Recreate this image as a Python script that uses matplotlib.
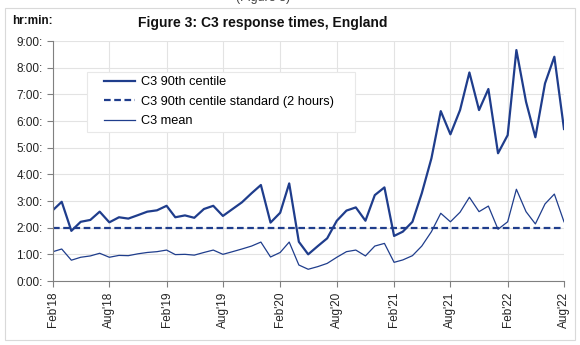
import numpy as np
import pandas as pd
import matplotlib
matplotlib.use("Agg")
import matplotlib.pyplot as plt
import matplotlib.dates as mdates
from matplotlib.patches import Rectangle

plt.rcParams["font.family"] = ["Liberation Sans", "DejaVu Sans"]

# monthly values, Feb 2018 .. Aug 2022, in hours
months = pd.date_range("2018-02-01", "2022-08-01", freq="MS")
centile_90 = [
    2.66, 2.97, 1.88, 2.22, 2.29, 2.60, 2.20, 2.39, 2.34, 2.47, 2.60,  # 2018
    2.65, 2.82, 2.39, 2.46, 2.37, 2.70, 2.82, 2.44, 2.70, 2.95, 3.29, 3.60,  # 2019
    2.19, 2.56, 3.66, 1.47, 1.00, 1.31, 1.60, 2.26, 2.64, 2.76, 2.26, 3.22,  # 2020
    3.51, 1.69, 1.85, 2.22, 3.29, 4.60, 6.37, 5.50, 6.41, 7.82, 6.41, 7.20,  # 2021
    4.79, 5.47, 8.66, 6.72, 5.39, 7.41, 8.41, 5.70,  # 2022
]
mean_time = [
    1.10, 1.20, 0.78, 0.89, 0.94, 1.04, 0.89, 0.96, 0.95, 1.02, 1.07,
    1.10, 1.16, 0.99, 1.00, 0.97, 1.07, 1.16, 1.00, 1.10, 1.20, 1.31, 1.46,
    0.90, 1.07, 1.46, 0.60, 0.44, 0.54, 0.66, 0.89, 1.10, 1.16, 0.94, 1.31,
    1.41, 0.70, 0.79, 0.95, 1.31, 1.85, 2.54, 2.22, 2.58, 3.14, 2.60, 2.81,
    1.94, 2.22, 3.44, 2.60, 2.14, 2.89, 3.26, 2.22,
]
standard = 2.0

y_ticks = np.arange(0, 10)
y_labels = [f"{h}:00:" for h in y_ticks]

navy = "#1f3d8c"
W, H = 580, 345

fig = plt.figure(figsize=(5.8, 3.45), dpi=100)
ax = fig.add_axes([53 / W, 1 - 281 / H, 511 / W, 240 / H])

ax.plot(months, centile_90, color=navy, lw=1.6, label="C3 90th centile")
ax.axhline(standard, color=navy, lw=1.6, ls=(0, (3, 1.6)),
           label="C3 90th centile standard (2 hours)")
ax.plot(months, mean_time, color=navy, lw=0.9, label="C3 mean")

ax.set_xlim(months[0], months[-1])
ax.set_ylim(0, 9)
ax.set_yticks(y_ticks)
ax.set_yticklabels(y_labels)
ax.xaxis.set_major_locator(mdates.MonthLocator(bymonth=[2, 8]))
ax.xaxis.set_major_formatter(mdates.DateFormatter("%b'%y"))
plt.setp(ax.get_xticklabels(), rotation=90)

ax.grid(True, color="#e3e3e3", lw=0.8)
ax.set_axisbelow(True)
for side in ["top", "right"]:
    ax.spines[side].set_visible(False)
for side in ["left", "bottom"]:
    ax.spines[side].set_color("#808080")
ax.tick_params(axis="both", colors="#808080", labelcolor="#222222",
               labelsize=8.5, length=4, width=0.8)

# legend box drawn separately (wide side padding like the source)
fig.patches.append(Rectangle((87 / W, 1 - 132 / H), 268 / W, 60 / H,
                             transform=fig.transFigure, facecolor="white",
                             edgecolor="#e8e8e8", lw=0.8, zorder=5))
leg = fig.legend(*ax.get_legend_handles_labels(), loc="upper left",
                 bbox_to_anchor=(104 / W, 1 - 76 / H), fontsize=9.2,
                 handlelength=2.4, handletextpad=0.5, labelspacing=0.6,
                 borderpad=0, borderaxespad=0, frameon=False)
leg.set_zorder(6)

fig.text(263 / W, 1 - 23 / H, "Figure 3: C3 response times, England",
         ha="center", va="center", fontsize=10, fontweight="bold",
         color="#111111")
fig.text(12 / W, 1 - 21 / H, "hr:min:", ha="left", va="center",
         fontsize=8.5, fontweight="bold", color="#111111")
fig.text(263 / W, 1 + 2 / H, "(Figure 3)", ha="center", va="center",
         fontsize=9, color="#444444")

fig.patches.append(Rectangle((5 / W, 5 / H), 570 / W, 332 / H,
                             transform=fig.transFigure, fill=False,
                             edgecolor="#d9d9d9", lw=0.8))

fig.savefig("out.png", dpi=100)
